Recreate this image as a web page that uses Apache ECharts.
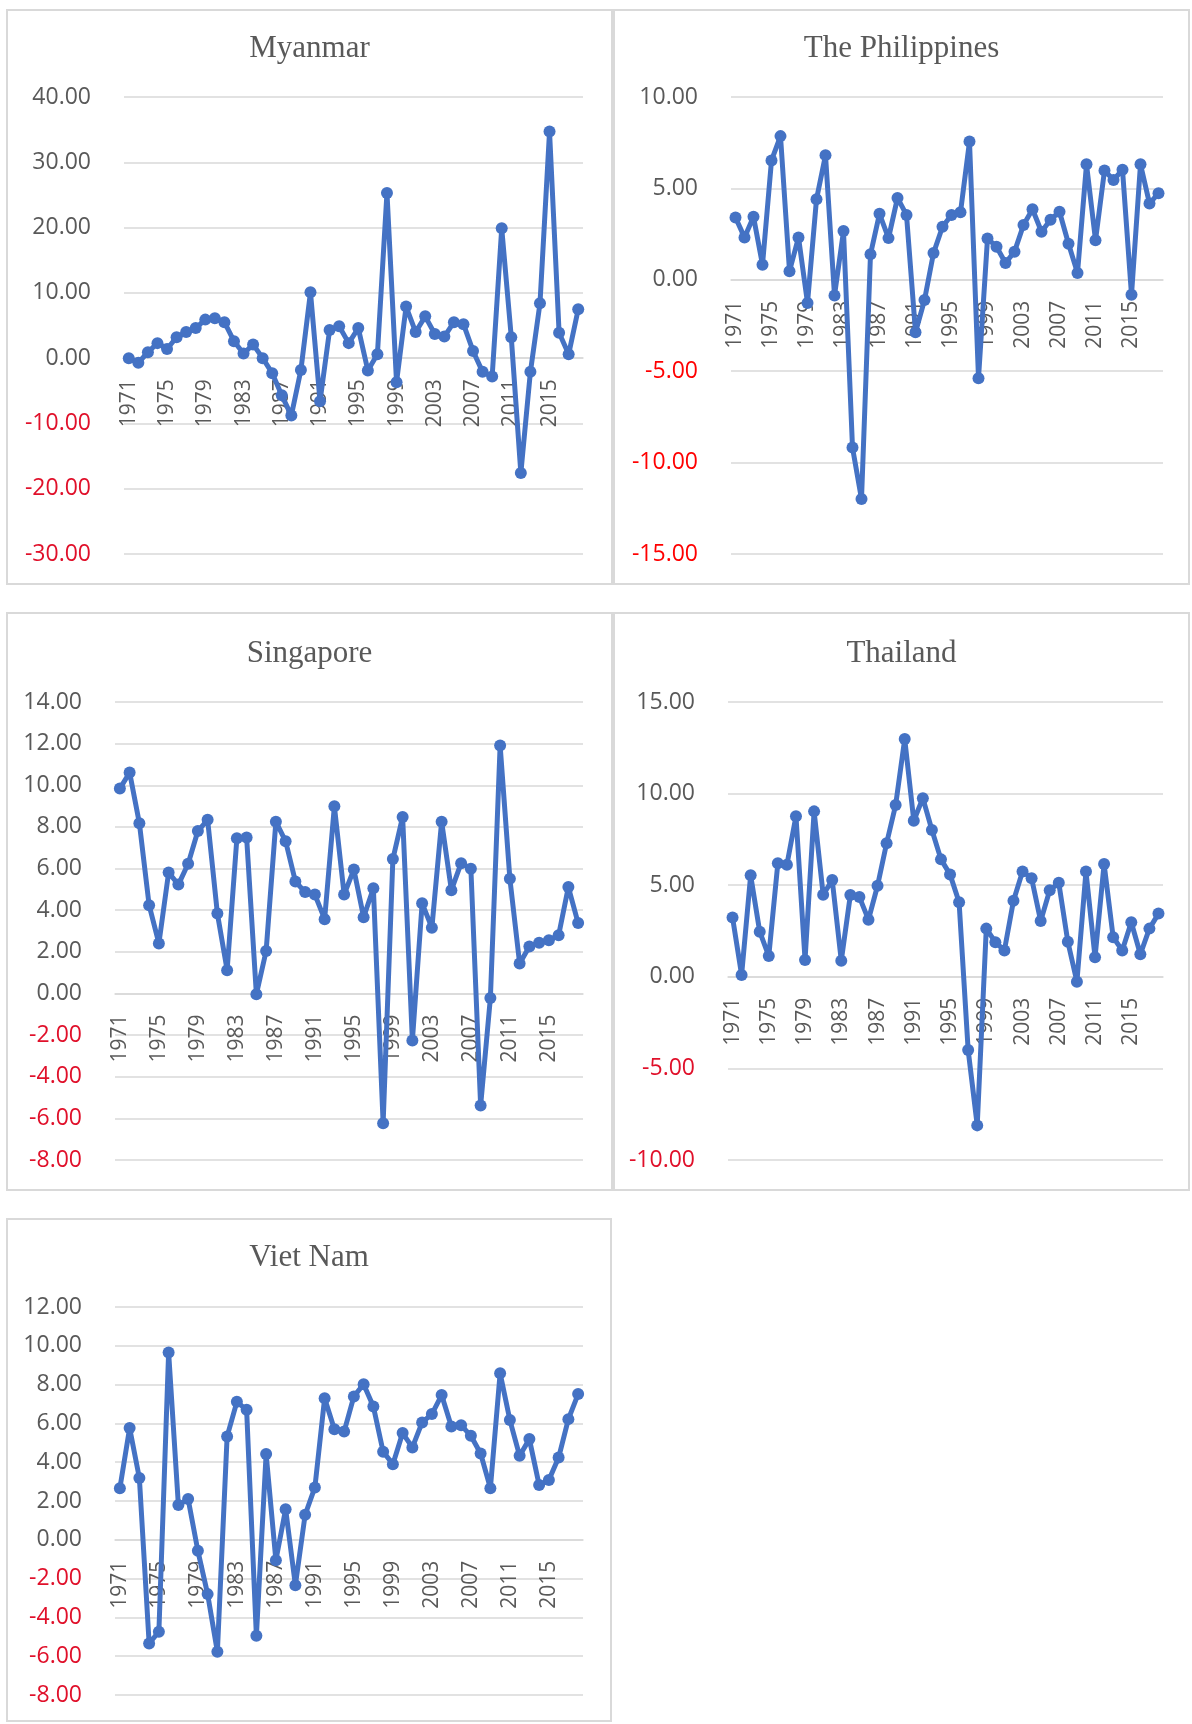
<!DOCTYPE html>
<html>
<head>
<meta charset="utf-8">
<title>Growth charts</title>
<script src="https://cdn.jsdelivr.net/npm/echarts@6/dist/echarts.min.js"></script>
<style>
  html, body { margin: 0; padding: 0; background: #fff; }
  body { width: 1192px; height: 1724px; position: relative; }
  .panel {
    position: absolute;
    box-sizing: border-box;
    border: 2px solid #d9d9d9;
    background: #fff;
  }
</style>
</head>
<body>
<div id="myanmar" class="panel" style="left:6px;top:9px;width:607px;height:576px"></div>
<div id="philippines" class="panel" style="left:613px;top:9px;width:577px;height:576px"></div>
<div id="singapore" class="panel" style="left:6px;top:612px;width:607px;height:579px"></div>
<div id="thailand" class="panel" style="left:613px;top:612px;width:577px;height:579px"></div>
<div id="vietnam" class="panel" style="left:6px;top:1218px;width:606px;height:504px"></div>

<script>
// years on the x axis
const years = [
  '1971', '1972', '1973', '1974', '1975', '1976', '1977', '1978', '1979', '1980',
  '1981', '1982', '1983', '1984', '1985', '1986', '1987', '1988', '1989', '1990',
  '1991', '1992', '1993', '1994', '1995', '1996', '1997', '1998', '1999', '2000',
  '2001', '2002', '2003', '2004', '2005', '2006', '2007', '2008', '2009', '2010',
  '2011', '2012', '2013', '2014', '2015', '2016', '2017', '2018'
];

const myanmar = [
  0.0, -0.7, 0.9, 2.3, 1.4, 3.2, 4.0, 4.6, 5.9, 6.1,
  5.5, 2.6, 0.7, 2.1, 0.0, -2.3, -5.7, -8.8, -1.8, 10.1,
  -6.6, 4.3, 4.9, 2.3, 4.6, -1.9, 0.6, 25.3, -3.7, 7.9,
  4.0, 6.4, 3.7, 3.3, 5.5, 5.2, 1.1, -2.1, -2.8, 19.9,
  3.2, -17.6, -2.1, 8.4, 34.7, 3.9, 0.6, 7.5
];

const philippines = [
  3.41, 2.32, 3.45, 0.82, 6.53, 7.86, 0.47, 2.32, -1.27, 4.41,
  6.82, -0.86, 2.67, -9.18, -11.99, 1.40, 3.61, 2.28, 4.48, 3.55,
  -2.87, -1.11, 1.46, 2.90, 3.55, 3.70, 7.56, -5.38, 2.26, 1.81,
  0.92, 1.54, 3.00, 3.86, 2.63, 3.29, 3.72, 1.97, 0.37, 6.32,
  2.16, 5.98, 5.46, 6.02, -0.82, 6.32, 4.17, 4.74
];

const singapore = [
  9.84, 10.61, 8.18, 4.24, 2.40, 5.81, 5.23, 6.23, 7.80, 8.34,
  3.84, 1.12, 7.45, 7.49, -0.04, 2.04, 8.25, 7.31, 5.38, 4.87,
  4.75, 3.57, 8.99, 4.75, 5.96, 3.66, 5.05, -6.23, 6.46, 8.48,
  -2.26, 4.33, 3.16, 8.25, 4.96, 6.26, 5.99, -5.38, -0.22, 11.91,
  5.51, 1.44, 2.26, 2.44, 2.56, 2.80, 5.11, 3.38
];

const thailand = [
  3.24, 0.10, 5.54, 2.46, 1.13, 6.20, 6.12, 8.77, 0.92, 9.03,
  4.48, 5.28, 0.88, 4.46, 4.35, 3.12, 4.97, 7.29, 9.38, 12.98,
  8.52, 9.75, 8.01, 6.41, 5.59, 4.07, -4.00, -8.11, 2.63, 1.89,
  1.44, 4.15, 5.75, 5.38, 3.04, 4.72, 5.13, 1.91, -0.27, 5.75,
  1.07, 6.16, 2.16, 1.44, 2.98, 1.23, 2.63, 3.45
];

const vietnam = [
  2.66, 5.76, 3.18, -5.34, -4.74, 9.66, 1.79, 2.10, -0.57, -2.80,
  -5.77, 5.33, 7.11, 6.70, -4.95, 4.42, -1.05, 1.58, -2.34, 1.29,
  2.70, 7.30, 5.70, 5.58, 7.39, 8.02, 6.87, 4.54, 3.90, 5.50,
  4.76, 6.05, 6.48, 7.46, 5.84, 5.91, 5.36, 4.45, 2.66, 8.59,
  6.17, 4.33, 5.19, 2.82, 3.08, 4.24, 6.22, 7.51
];

const LINE_COLOR = '#4472c4';
const TEXT_COLOR = '#595959';
const GRID_COLOR = '#d9d9d9';
const LABEL_FONT = '"Open Sans", "Noto Sans", sans-serif';

// one option object per panel
function buildOption(cfg) {
  return {
    animation: false,
    title: {
      text: cfg.title,
      left: 'center',
      top: cfg.titleTop,
      padding: 0,
      textStyle: {
        fontFamily: '"Liberation Serif", "DejaVu Serif", serif',
        fontWeight: 'normal',
        fontSize: 31,
        color: TEXT_COLOR
      }
    },
    grid: Object.assign({ outerBoundsMode: 'none', containLabel: false }, cfg.grid),
    xAxis: {
      type: 'category',
      data: years,
      boundaryGap: true,
      axisLine: { show: true, onZero: false, lineStyle: { color: GRID_COLOR, width: 1.5 } },
      axisTick: { show: false },
      splitLine: { show: false },
      axisLabel: {
        interval: 3,
        rotate: 90,
        margin: 21,
        fontSize: 21,
        fontFamily: LABEL_FONT,
        color: TEXT_COLOR
      }
    },
    yAxis: {
      type: 'value',
      min: cfg.min,
      max: cfg.max,
      interval: cfg.interval,
      axisLine: { show: false },
      axisTick: { show: false },
      splitLine: { lineStyle: { color: GRID_COLOR, width: 1.5 } },
      axisLabel: {
        margin: 33,
        fontSize: 23,
        fontFamily: LABEL_FONT,
        formatter: (v) => v.toFixed(2),
        color: (v) => (Number(v) < 0 ? cfg.negColor : TEXT_COLOR)
      }
    },
    series: [
      {
        type: 'line',
        data: cfg.data,
        symbol: 'circle',
        symbolSize: 12,
        showSymbol: true,
        showAllSymbol: true,
        itemStyle: { color: LINE_COLOR },
        lineStyle: { color: LINE_COLOR, width: 5 }
      }
    ]
  };
}

const panels = [
  {
    id: 'myanmar', title: 'Myanmar', data: myanmar,
    min: -30, max: 40, interval: 10, negColor: '#e0102a', titleTop: 22,
    grid: { left: 116, right: 28, top: 86, bottom: 29 }
  },
  {
    id: 'philippines', title: 'The Philippines', data: philippines,
    min: -15, max: 10, interval: 5, negColor: '#ff0000', titleTop: 22,
    grid: { left: 116, right: 25, top: 86, bottom: 29 }
  },
  {
    id: 'singapore', title: 'Singapore', data: singapore,
    min: -8, max: 14, interval: 2, negColor: '#e0102a', titleTop: 24,
    grid: { left: 107, right: 28, top: 88, bottom: 29 }
  },
  {
    id: 'thailand', title: 'Thailand', data: thailand,
    min: -10, max: 15, interval: 5, negColor: '#e0102a', titleTop: 24,
    grid: { left: 113, right: 25, top: 88, bottom: 29 }
  },
  {
    id: 'vietnam', title: 'Viet Nam', data: vietnam,
    min: -8, max: 12, interval: 2, negColor: '#e0102a', titleTop: 22,
    grid: { left: 107, right: 27, top: 87, bottom: 25 }
  }
];

panels.forEach((cfg) => {
  const chart = echarts.init(document.getElementById(cfg.id), null, { renderer: 'canvas' });
  chart.setOption(buildOption(cfg));
  // move the category axis (line + labels) up to the zero line
  const zeroY = chart.convertToPixel({ yAxisIndex: 0 }, 0);
  const bottomY = chart.convertToPixel({ yAxisIndex: 0 }, cfg.min);
  chart.setOption({ xAxis: { offset: -(bottomY - zeroY) } });
});
</script>
</body>
</html>
